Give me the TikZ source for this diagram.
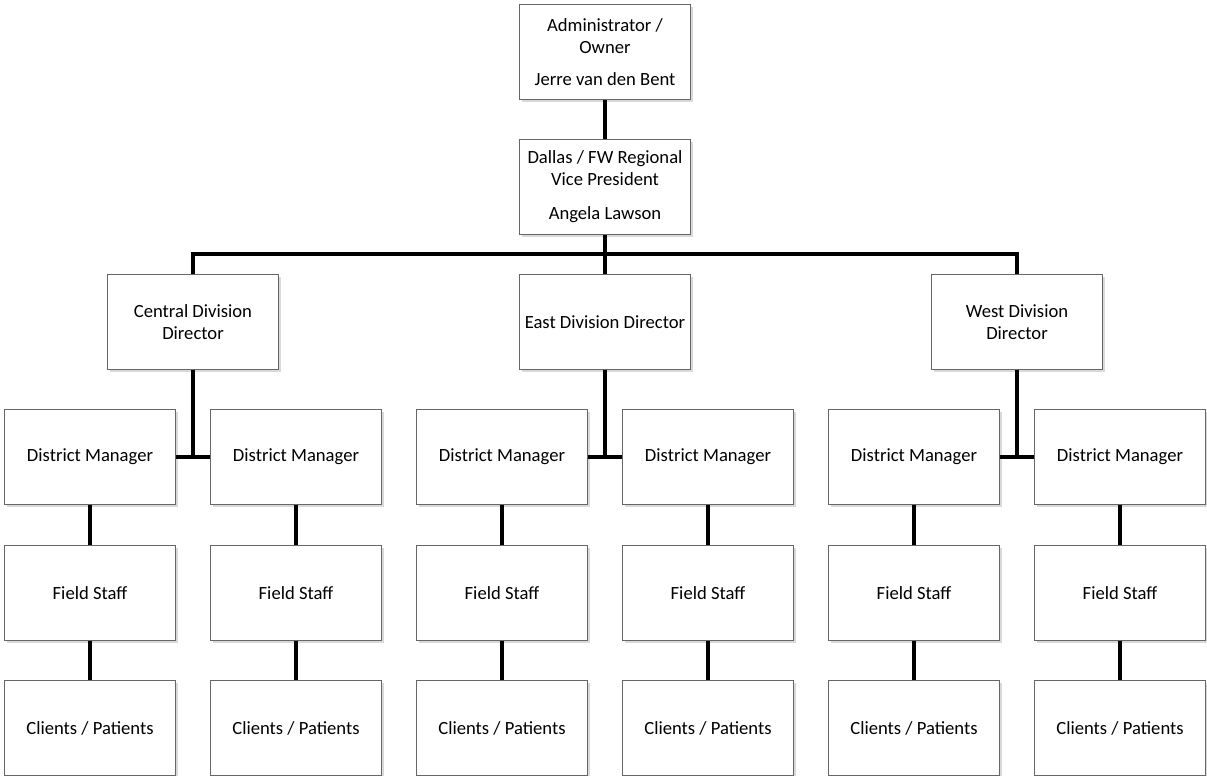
\documentclass[tikz,border=0pt]{standalone}
\usepackage{fontspec}
\setmainfont{Carlito}
\usepackage{tikz}
\usetikzlibrary{positioning}
\usetikzlibrary{shadows}
\usetikzlibrary{calc}

\begin{document}
\begin{tikzpicture}[x=0.02cm,y=-0.02cm]
% définition des paramètres
\tikzstyle boiteorga=[draw=black!60,thin,fill=white,minimum width=3.42cm,minimum height=1.9cm,inner sep=0pt,align=center,font=\fontsize{10.6}{12.4}\selectfont,drop shadow={shadow xshift=0.05cm,shadow yshift=-0.05cm,fill=black!25,opacity=0.6}]
\tikzstyle traitorga=[color=black,line width=0.08cm]
\newcommand{\colpas}{206} % écart entre deux colonnes
\newcommand{\colorig}{90} % abscisse de la première colonne
% le cadre
\useasboundingbox (0,0) rectangle (1207,776);
% la direction
\node[boiteorga] (admin) at (605,52) {Administrator /\\ Owner\\[6pt] Jerre van den Bent};
\node[boiteorga] (vp) at (605,187) {Dallas / FW Regional\\ Vice President\\[7pt] Angela Lawson};
% les divisions
\node[boiteorga] (cent) at (193,322) {Central Division\\ Director};
\node[boiteorga] (east) at (605,322) {East Division Director};
\node[boiteorga] (west) at (1017,322) {West Division\\ Director};
% les colonnes
\foreach \i [evaluate=\i as \x using \colorig+\colpas*(\i-1)] in {1,...,6}
{
    \node[boiteorga] (man\i) at (\x,457) {District Manager};
    \node[boiteorga] (staff\i) at (\x,593) {Field Staff};
    \node[boiteorga] (cli\i) at (\x,728) {Clients / Patients};
}
% les traits
\draw[traitorga] (admin.south) -- (vp.north);
\draw[traitorga] (vp.south) -- (east.north);
\draw[traitorga] (cent.north) -- ++(0,-20) -| (west.north);
\foreach \d/\a/\b in {cent/1/2,east/3/4,west/5/6}
{
    \draw[traitorga] (\d.south) -- (\d.south |- man\a.east);
    \draw[traitorga] (man\a.east) -- (man\b.west);
}
\foreach \i in {1,...,6}
{
    \draw[traitorga] (man\i.south) -- (staff\i.north);
    \draw[traitorga] (staff\i.south) -- (cli\i.north);
}
\end{tikzpicture}
\end{document}
